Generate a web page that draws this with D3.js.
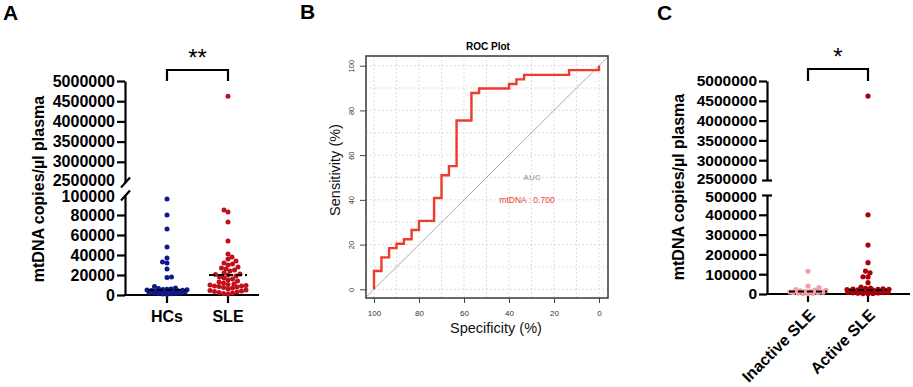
<!DOCTYPE html>
<html><head><meta charset="utf-8">
<script src="https://cdn.jsdelivr.net/npm/d3@7"></script>
<style>
body{margin:0;background:#fff}
svg{display:block;font-family:"Liberation Sans",Arial,Helvetica,sans-serif}
</style>
</head><body>
<svg id="chart" width="913" height="387"></svg>
<script>
// ---------- DATA ----------
// Panel A
const groupsA = ["HCs", "SLE"];
const hcsValues = [96000, 80000, 66000, 48000, 37000, 33000, 32000, 26000, 18000, 17500, 8500,
  7000, 6500, 6000, 5800, 5500, 5200, 5000, 4800, 4500, 4200, 4000, 3800, 3500, 3200, 3000,
  2800, 2500, 2200, 2000, 1800, 1500, 1200, 1000, 800];
const sleValues = [4620000, 85000, 83000, 73000, 54000, 41000, 38000, 36000, 34000, 32000, 31000,
  30000, 28000, 27000, 26000, 25000, 24000, 22000, 21000, 20500, 20000, 19000, 18000, 17000,
  16000, 15000, 14000, 13000, 12000, 11000, 10500, 10000, 9500, 9000, 9000, 8500, 8000, 7500,
  7000, 6000, 5000, 4500, 4000, 3500, 3000, 2500, 2000, 1500, 1000];
const mediansA = [5000, 20000];
const ticksLowA = [0, 20000, 40000, 60000, 80000, 100000];
const ticksUpA = [2500000, 3000000, 3500000, 4000000, 4500000, 5000000];
const sigA = "**";

// Panel B (ROC)
const rocSpecificity = [100, 100, 96.7, 93.3, 90, 86.7, 83.3, 80, 73.3, 70, 66.7, 63.3, 56.7, 53.3, 40, 36.7, 33.3, 13.3, 0];
const rocSensitivity = [0, 8.2, 14.3, 18.4, 20.4, 22.4, 26.5, 30.6, 40.8, 51.0, 55.1, 75.5, 87.8, 89.8, 91.8, 93.9, 95.9, 98.0, 100];
const rocTicks = [0, 20, 40, 60, 80, 100];
const aucLabel = "mtDNA : 0.700";

// Panel C
const groupsC = ["Inactive SLE", "Active SLE"];
const inactiveValues = [115000, 40000, 32000, 22000, 20000, 18000, 16000, 14000, 12000, 10000, 9000,
  8000, 6000, 5000, 4000, 3000, 2000];
const activeValues = [4620000, 400000, 247000, 158000, 116000, 107000, 87000, 86000, 57000, 35000,
  30000, 28000, 26000, 25000, 24000, 23000, 22000, 21000, 20000, 19000, 18000, 17000, 16000, 15000,
  14000, 13000, 12000, 11000, 10000, 9000, 8000, 7000, 6000, 5000, 4000, 3000, 2000, 1000];
const mediansC = [12000, 20000];
const ticksLowC = [0, 100000, 200000, 300000, 400000, 500000];
const ticksUpC = [2500000, 3000000, 3500000, 4000000, 4500000, 5000000];
const sigC = "*";

const yTitle = "mtDNA copies/\u00b5l plasma";

// ---------- DRAW ----------
const svg = d3.select("#chart");
const fmt = d3.format("d");

// deterministic beeswarm layout (positions only)
function swarm(vals, yf, cx, r, maxW) {
  const pts = vals.map(v => ({v, y: yf(v)})).sort((a, b) => b.y - a.y);
  const placed = [];
  const minD = 1.75 * r;
  pts.forEach((p, i) => {
    const sign = i % 2 ? -1 : 1;
    let bestX = cx, bestD = -1, found = false;
    const n = Math.floor(maxW / 0.5) * 2 + 1;
    for (let k = 0; k < n; k++) {
      const off = k === 0 ? 0 : Math.ceil(k / 2) * 0.5 * (k % 2 ? sign : -sign);
      const x = cx + off;
      const d = placed.length ? d3.min(placed, q => Math.hypot(q.x - x, q.y - p.y)) : Infinity;
      if (d >= minD) { p.x = x; found = true; break; }
      if (d > bestD) { bestD = d; bestX = x; }
    }
    if (!found) p.x = bestX;
    placed.push(p);
  });
  return placed;
}

function dotPanel(cfg) {
  const g = svg.append("g");
  const yLow = d3.scaleLinear([0, cfg.lowMax], [cfg.y0, cfg.lowTop]);
  const yUp = d3.scaleLinear([2500000, 5000000], [cfg.upBottom, cfg.upTop]);
  const yf = v => v >= 2500000 ? yUp(v) : yLow(v);
  const x = d3.scaleOrdinal(cfg.groups, cfg.xs);

  const styleAxis = sel => {
    sel.select(".domain").attr("stroke", "#000").attr("stroke-width", 2.2);
    sel.selectAll(".tick line").attr("stroke", "#000").attr("stroke-width", 2.2);
    sel.selectAll(".tick text").attr("font-size", cfg.tickFont).attr("font-weight", "bold")
      .attr("fill", "#000").attr("font-family", "Liberation Sans, Arial, sans-serif");
  };
  const aLow = g.append("g").attr("transform", `translate(${cfg.axX},0)`)
    .call(d3.axisLeft(yLow).tickValues(cfg.ticksLow).tickFormat(fmt).tickSize(8).tickSizeOuter(0).tickPadding(2))
    .call(styleAxis);
  const aUp = g.append("g").attr("transform", `translate(${cfg.axX},0)`)
    .call(d3.axisLeft(yUp).tickValues(cfg.ticksUp).tickFormat(fmt).tickSize(8).tickSizeOuter(0).tickPadding(2))
    .call(styleAxis);
  // break marks
  [[aUp, 2500000, -1.5], [aLow, cfg.lowMax, 1.5]].forEach(([a, v, shift]) => {
    const t = a.selectAll(".tick").filter(d => d === v);
    t.select("text").attr("dy", (0.32 + shift / cfg.tickFont) + "em");
    if (cfg.breakStyle === "slash") {
      t.select("line").attr("x1", -4).attr("x2", 5).attr("y1", 5).attr("y2", -5);
    } else {
      t.select("line").attr("x1", -5).attr("x2", 5);
    }
  });
  // x axis
  g.append("line").attr("x1", cfg.axX - 1).attr("x2", cfg.xEnd).attr("y1", cfg.y0).attr("y2", cfg.y0)
    .attr("stroke", "#000").attr("stroke-width", 2.2);
  cfg.groups.forEach(gr => {
    g.append("line").attr("x1", x(gr)).attr("x2", x(gr)).attr("y1", cfg.y0).attr("y2", cfg.y0 + 8)
      .attr("stroke", "#000").attr("stroke-width", 2.2);
    if (cfg.rotate) {
      g.append("text").attr("transform", `translate(${x(gr) + 8},${cfg.y0 + 22}) rotate(-45)`)
        .attr("text-anchor", "end").attr("font-size", 16).attr("font-weight", "bold").text(gr);
    } else {
      g.append("text").attr("x", x(gr)).attr("y", cfg.y0 + 27).attr("text-anchor", "middle")
        .attr("font-size", 16).attr("font-weight", "bold").text(gr);
    }
  });
  // dots
  cfg.series.forEach((vals, i) => {
    const pts = swarm(vals, yf, x(cfg.groups[i]), cfg.r, cfg.maxW[i]);
    g.selectAll(null).data(pts).join("circle")
      .attr("cx", d => d.x).attr("cy", d => d.y).attr("r", cfg.r).attr("fill", cfg.colors[i]);
  });
  // medians
  cfg.medians.forEach((m, i) => {
    g.append("line").attr("x1", x(cfg.groups[i]) - cfg.medW).attr("x2", x(cfg.groups[i]) + cfg.medW)
      .attr("y1", yLow(m)).attr("y2", yLow(m)).attr("stroke", "#000").attr("stroke-width", 2)
      .attr("stroke-dasharray", "6,3");
  });
  // bracket
  const [xa, xb] = cfg.xs;
  g.append("path").attr("d", `M${xa},${cfg.brBottom}V${cfg.brTop}H${xb}V${cfg.brBottom}`)
    .attr("fill", "none").attr("stroke", "#000").attr("stroke-width", 2.2);
  g.append("text").attr("x", (xa + xb) / 2).attr("y", cfg.starY).attr("text-anchor", "middle")
    .attr("font-size", 24).attr("fill", "#000").text(cfg.sig);
  // y title
  g.append("text").attr("transform", `translate(${cfg.titleX},${cfg.titleY}) rotate(-90)`)
    .attr("text-anchor", "middle").attr("font-size", 16).attr("font-weight", "bold").text(yTitle);
  // panel letter
  g.append("text").attr("x", cfg.letterX).attr("y", 20).attr("font-size", 21).attr("font-weight", "bold").text(cfg.letter);
}

dotPanel({
  letter: "A", letterX: 3, groups: groupsA, xs: [167, 228], axX: 125, xEnd: 259,
  lowMax: 100000, y0: 295, lowTop: 195, upBottom: 182, upTop: 81,
  ticksLow: ticksLowA, ticksUp: ticksUpA, breakStyle: "slash", tickFont: 16,
  series: [hcsValues, sleValues], colors: ["#0c1a8c", "#c0101c"], medians: mediansA, medW: 19,
  maxW: [20, 19], r: 2.5, brTop: 70, brBottom: 81, starY: 66, sig: sigA, titleX: 44, titleY: 189, rotate: false
});

dotPanel({
  letter: "C", letterX: 657, groups: groupsC, xs: [808, 868], axX: 767, xEnd: 910,
  lowMax: 500000, y0: 294, lowTop: 195, upBottom: 180, upTop: 81,
  ticksLow: ticksLowC, ticksUp: ticksUpC, breakStyle: "cap", tickFont: 15.5,
  series: [inactiveValues, activeValues], colors: ["#f29ea5", "#a8000c"], medians: mediansC, medW: 19,
  maxW: [18, 21], r: 2.6, brTop: 69, brBottom: 81, starY: 65, sig: sigC, titleX: 684, titleY: 187, rotate: true
});

// ---------- Panel B: ROC ----------
(function () {
  const g = svg.append("g");
  const box = {l: 366, t: 56, r: 608, b: 298};
  const xR = d3.scaleLinear([100, 0], [374, 599]);
  const yR = d3.scaleLinear([0, 100], [289.3, 65.7]);
  g.append("text").attr("x", 300).attr("y", 19).attr("font-size", 21).attr("font-weight", "bold").text("B");
  g.append("text").attr("x", 488).attr("y", 50).attr("text-anchor", "middle").attr("font-size", 10)
    .attr("font-weight", "bold").text("ROC Plot");
  g.append("defs").append("clipPath").attr("id", "rocclip").append("rect")
    .attr("x", box.l).attr("y", box.t).attr("width", box.r - box.l).attr("height", box.b - box.t);
  const grid = d3.range(0, 101, 10);
  g.selectAll(null).data(grid).join("line")
    .attr("x1", d => xR(d)).attr("x2", d => xR(d)).attr("y1", box.t).attr("y2", box.b)
    .attr("stroke", "#d4d4d4").attr("stroke-width", 0.8).attr("stroke-dasharray", "2,2");
  g.selectAll(null).data(grid).join("line")
    .attr("y1", d => yR(d)).attr("y2", d => yR(d)).attr("x1", box.l).attr("x2", box.r)
    .attr("stroke", "#d4d4d4").attr("stroke-width", 0.8).attr("stroke-dasharray", "2,2");
  g.append("line").attr("clip-path", "url(#rocclip)")
    .attr("x1", xR(110)).attr("y1", yR(-10)).attr("x2", xR(-10)).attr("y2", yR(110))
    .attr("stroke", "#aaaaaa").attr("stroke-width", 1);
  const pts = rocSpecificity.map((s, i) => [s, rocSensitivity[i]]);
  g.append("path").attr("d", d3.line().x(d => xR(d[0])).y(d => yR(d[1])).curve(d3.curveStepAfter)(pts))
    .attr("fill", "none").attr("stroke", "#ee3b2b").attr("stroke-width", 2.4);
  g.append("rect").attr("x", box.l).attr("y", box.t).attr("width", box.r - box.l).attr("height", box.b - box.t)
    .attr("fill", "none").attr("stroke", "#444").attr("stroke-width", 1.6);
  const ax = g.append("g").attr("transform", `translate(0,${box.b})`)
    .call(d3.axisBottom(xR).tickValues(rocTicks).tickSize(5).tickPadding(7).tickSizeOuter(0));
  ax.select(".domain").remove();
  ax.selectAll(".tick line").attr("stroke", "#444");
  ax.selectAll(".tick text").attr("font-size", 8).attr("fill", "#333").attr("font-family", "Liberation Sans, Arial");
  const ay = g.append("g").attr("transform", `translate(${box.l},0)`)
    .call(d3.axisLeft(yR).tickValues(rocTicks).tickSize(6).tickSizeOuter(0));
  ay.select(".domain").remove();
  ay.selectAll(".tick line").attr("stroke", "#444");
  ay.selectAll(".tick text").attr("x", 0).attr("dy", 0).attr("text-anchor", "middle")
    .attr("transform", "translate(-12,0) rotate(-90)").attr("font-size", 7.5).attr("fill", "#333")
    .attr("font-family", "Liberation Sans, Arial");
  g.append("text").attr("transform", "translate(340,170) rotate(-90)").attr("text-anchor", "middle")
    .attr("font-size", 14.5).attr("fill", "#111").text("Sensitivity (%)");
  g.append("text").attr("x", 496).attr("y", 333).attr("text-anchor", "middle")
    .attr("font-size", 14.5).attr("fill", "#111").text("Specificity (%)");
  g.append("text").attr("x", 532).attr("y", 180).attr("text-anchor", "middle").attr("font-size", 8)
    .attr("font-weight", "bold").attr("fill", "#b0b0b0").text("AUC");
  g.append("text").attr("x", 527).attr("y", 203).attr("text-anchor", "middle").attr("font-size", 8.5)
    .attr("fill", "#ee3b2b").text(aucLabel);
})();
</script>
</body></html>
